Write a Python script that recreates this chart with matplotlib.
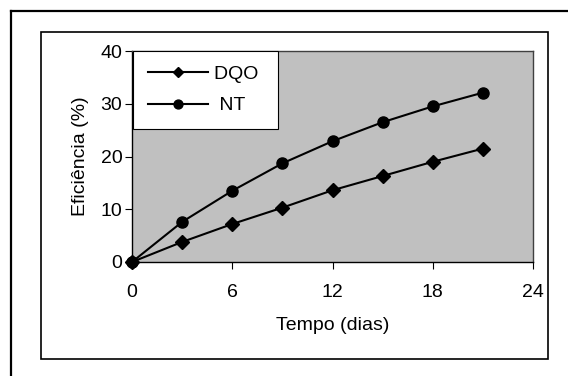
import matplotlib.pyplot as plt
from matplotlib.patches import Rectangle
from matplotlib.lines import Line2D

plt.rcParams['font.family'] = ['Liberation Sans', 'DejaVu Sans']

# data
dias = [0, 3, 6, 9, 12, 15, 18, 21]
dqo = [0, 3.8, 7.2, 10.3, 13.6, 16.3, 19.0, 21.5]
nt = [0, 7.6, 13.5, 18.7, 22.9, 26.5, 29.5, 32.1]

W, H = 568, 376
fig = plt.figure(figsize=(W / 100, H / 100), dpi=100)

# outer frame (only left and top are visible)
fig.add_artist(Line2D([11 / W, 11 / W], [0, 1 - 11 / H], color='black', lw=1.6))
fig.add_artist(Line2D([11 / W, 1], [1 - 11 / H, 1 - 11 / H], color='black', lw=1.6))
# chart area border
fig.add_artist(Rectangle((41 / W, 1 - 359 / H), (548 - 41) / W, (359 - 32) / H,
                         fill=False, edgecolor='black', lw=1.2))

ax = fig.add_axes([132 / W, 1 - 262 / H, (533 - 132) / W, (262 - 51) / H])
ax.set_facecolor('#c0c0c0')

ax.plot(dias, dqo, color='black', lw=1.5, marker='D', ms=7, label='DQO ', clip_on=False)
ax.plot(dias, nt, color='black', lw=1.5, marker='o', ms=8, label=' NT', clip_on=False)

ax.set_xlim(0, 24)
ax.set_ylim(0, 40)
ax.set_xticks([0, 6, 12, 18, 24])
ax.set_yticks([0, 10, 20, 30, 40])
ax.tick_params(direction='out', length=5, width=0.8, labelsize=14, colors='black')
ax.tick_params(axis='x', pad=11)
ax.tick_params(axis='y', pad=2)

for side in ['left', 'bottom']:
    ax.spines[side].set_color('black')
    ax.spines[side].set_linewidth(1.0)
for side in ['top', 'right']:
    ax.spines[side].set_color('#404040')
    ax.spines[side].set_linewidth(1.0)

ax.set_xlabel('Tempo (dias)', fontsize=14, labelpad=11)
ax.set_ylabel('Eficiência (%)', fontsize=14, labelpad=8)

leg = ax.legend(loc='upper left', bbox_to_anchor=(0.003, 1.0), fontsize=14,
                frameon=True, fancybox=False, handlelength=3.1, borderaxespad=0,
                labelspacing=0.7, borderpad=0.75, handletextpad=0.3, markerscale=0.8)
leg.get_frame().set_edgecolor('black')
leg.get_frame().set_linewidth(0.8)
leg.get_frame().set_facecolor('white')
leg.get_frame().set_alpha(1)

fig.savefig('out.png', dpi=100)
